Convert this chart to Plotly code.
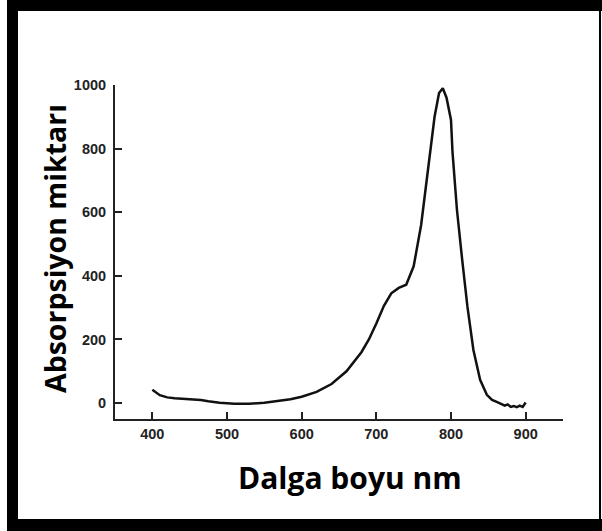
import plotly.graph_objects as go

wavelength = [400, 405, 410, 420, 430, 450, 465, 475, 490, 510, 530, 550, 570, 585,
              600, 620, 640, 660, 680, 690, 700, 710, 720, 730, 740, 750, 760, 770,
              778, 784, 789, 794, 798, 800, 802, 808, 815, 822, 830, 839, 848, 855,
              862, 868, 872, 876, 880, 884, 888, 892, 896, 900]
absorb = [42, 32, 25, 18, 15, 12, 10, 6, 1, -2, -2, 1, 6, 12,
          20, 35, 60, 100, 160, 200, 250, 305, 345, 362, 372, 430, 560, 760,
          900, 975, 990, 960, 915, 890, 790, 607, 450, 303, 167, 73, 26, 10,
          3, -5, -8, -4, -12, -9, -13, -8, -12, 2]

x_ticks = [400, 500, 600, 700, 800, 900]
y_ticks = [0, 200, 400, 600, 800, 1000]
x_title = "Dalga boyu nm"
y_title = "Absorpsiyon miktarı"

W, H = 602, 531
L, R, T, B = 115, 563, 85, 419


def px(x):
    return (x - L) / (R - L)


def py(y):
    return (B - y) / (B - T)


fig = go.Figure()
fig.add_trace(go.Scatter(x=wavelength, y=absorb, mode="lines",
                         line=dict(color="#111111", width=2.5), showlegend=False,
                         hoverinfo="skip"))

tickfont = dict(family="Liberation Sans, Arial, sans-serif", size=14.5, color="#222222", weight="bold")
fig.update_xaxes(range=[350, 950], tickvals=x_ticks, ticks="inside", ticklen=7, tickwidth=2,
                 tickcolor="#222222", showline=True, linecolor="#222222", linewidth=2,
                 showgrid=False, zeroline=False, tickfont=tickfont, ticklabelstandoff=1)
fig.update_yaxes(range=[-50, 1000], tickvals=y_ticks, ticks="inside", ticklen=7, tickwidth=2,
                 tickcolor="#222222", showline=True, linecolor="#222222", linewidth=2,
                 showgrid=False, zeroline=False, tickfont=tickfont, ticklabelstandoff=4)

fig.add_annotation(text=x_title, xref="paper", yref="paper", x=px(350), y=py(477),
                   showarrow=False, xanchor="center", yanchor="middle",
                   font=dict(family="Open Sans, sans-serif", size=30, color="#000000", weight="bold"))
fig.add_annotation(text=y_title, xref="paper", yref="paper", x=px(55), y=py(249),
                   showarrow=False, textangle=-90, xanchor="center", yanchor="middle",
                   font=dict(family="Open Sans, sans-serif", size=28.5, color="#000000", weight="bold"))

# black frame
frame = [(7, 0, 18, H), (7, 0, W, 11), (7, 519, W, H), (599, 0, 601, H)]
for x0, y0, x1, y1 in frame:
    fig.add_shape(type="rect", xref="paper", yref="paper", x0=px(x0), x1=px(x1),
                  y0=py(y0), y1=py(y1), fillcolor="black", line=dict(width=0), layer="above")

fig.update_layout(width=W, height=H, margin=dict(l=L, r=W - R, t=T, b=H - B),
                  paper_bgcolor="white", plot_bgcolor="white")
fig.write_html("out.html")
